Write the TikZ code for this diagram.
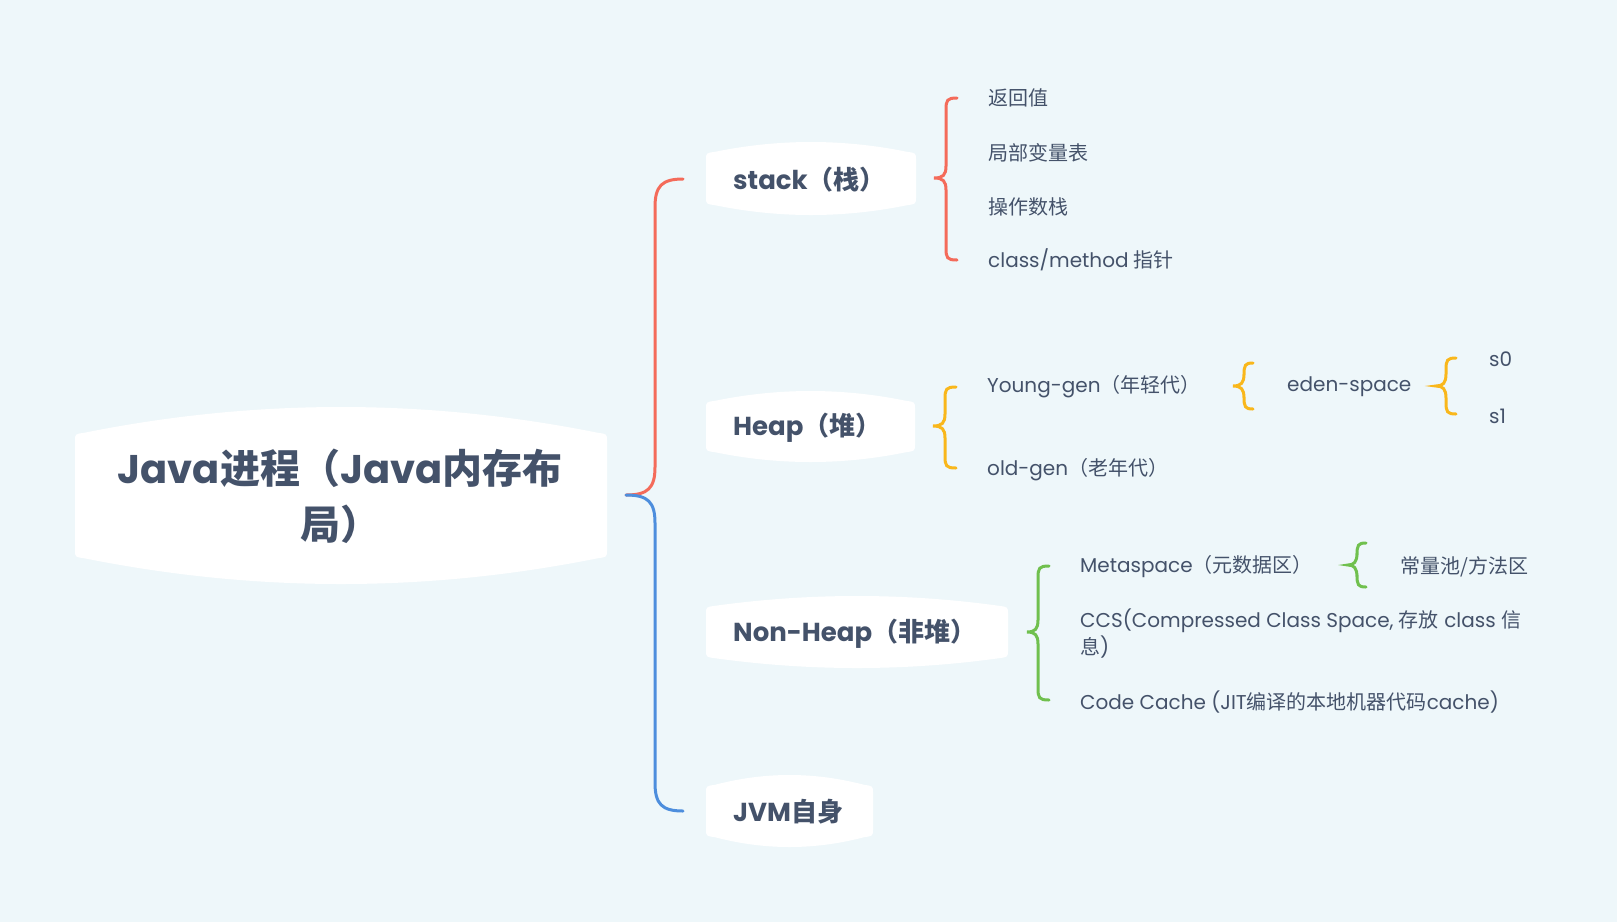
\documentclass[tikz,border=0pt]{standalone}
\usepackage{fontspec}
\setmainfont{Poppins}
\newfontfamily\cjk{Noto Sans CJK SC}
\definecolor{bg}{HTML}{EEF7FA}
\definecolor{ink}{HTML}{44526A}
\definecolor{cred}{HTML}{F46B5A}
\definecolor{cblue}{HTML}{4D8EDD}
\definecolor{cyel}{HTML}{F9B71B}
\definecolor{cgrn}{HTML}{70C04E}
\tikzset{
  rootlabel/.style={text=ink, font=\bfseries\fontsize{40}{56}\selectfont, align=center, inner sep=0pt},
  toplabel/.style={text=ink, font=\bfseries\fontsize{26}{32}\selectfont, anchor=west, inner sep=0pt},
  leaf/.style={text=ink, font=\fontsize{20}{27}\selectfont, anchor=west, inner sep=0pt, align=left},
  conn/.style={line width=3pt, line cap=round},
}
% bulged white box: x1, x2, top centre y, top corner y, bottom corner y, bottom centre y
\newcommand\bulgebox[6]{%
  \fill[white] ({#1},{#4+7}) .. controls ({#1},{#4}) .. ({#1+9},{#4-1.2})
    .. controls ({#1+9+(#2-#1-18)/3},{#3+(#3-#4+1.2)/3}) and ({#2-9-(#2-#1-18)/3},{#3+(#3-#4+1.2)/3}) .. ({#2-9},{#4-1.2})
    .. controls ({#2},{#4}) .. ({#2},{#4+7})
    -- ({#2},{#5-7}) .. controls ({#2},{#5}) .. ({#2-9},{#5+1.2})
    .. controls ({#2-9-(#2-#1-18)/3},{#6+(#6-#5-1.2)/3}) and ({#1+9+(#2-#1-18)/3},{#6+(#6-#5-1.2)/3}) .. ({#1+9},{#5+1.2})
    .. controls ({#1},{#5}) .. ({#1},{#5-7}) -- cycle;}
% brace: tip x, tip y, vertical x, end x, top y, bottom y, colour
\newcommand\bracket[7]{%
  \draw[conn,#7] ({#4},{#5}) .. controls ({#3+1},{#5}) and ({#3},{#5+2}) .. ({#3},{#5+12})
    -- ({#3},{#2-12}) .. controls ({#3},{#2-3}) and ({#3-3},{#2}) .. ({#1},{#2})
    .. controls ({#3-3},{#2}) and ({#3},{#2+3}) .. ({#3},{#2+12})
    -- ({#3},{#6-12}) .. controls ({#3},{#6-2}) and ({#3+1},{#6}) .. ({#4},{#6});}
\begin{document}
\begin{tikzpicture}[x=1pt,y=-1pt]
\fill[bg] (0,0) rectangle (1617,922);
\useasboundingbox (0,0) rectangle (1617,922);

% boxes
\bulgebox{75}{607}{407}{434}{557}{584}
\bulgebox{706}{916}{142}{153}{204}{215}
\bulgebox{706}{915}{391}{402}{451}{462}
\bulgebox{706}{1008}{596}{607}{657}{668}
\bulgebox{706}{873}{775}{786}{836}{847}

% labels
\node[rootlabel] (root) at (340,496) {Java{\cjk 进程（}Java{\cjk 内存布}\\{\cjk 局）}};
\node[toplabel] (stack) at (733,180) {stack{\cjk （栈）}};
\node[toplabel] (heap) at (733,428) {Heap{\cjk （堆）}};
\node[toplabel] (nonheap) at (733,634) {Non-Heap{\cjk （非堆）}};
\node[toplabel] (jvm) at (733,812) {JVM{\cjk 自身}};

\node[leaf] (ret) at (988,98) {{\cjk 返回值}};
\node[leaf] (local) at (988,153) {{\cjk 局部变量表}};
\node[leaf] (opstack) at (988,207) {{\cjk 操作数栈}};
\node[leaf] (ptr) at (988,260) {class/method {\cjk 指针}};

\node[leaf] (young) at (987,387) {Young-gen{\cjk （年轻代）}};
\node[leaf] (old) at (987,470) {old-gen{\cjk （老年代）}};
\node[leaf] (eden) at (1287,387) {eden-space};
\node[leaf] (s0) at (1489,359) {s0};
\node[leaf] (s1) at (1489,416) {s1};

\node[leaf] (meta) at (1080,567) {Metaspace{\cjk （元数据区）}};
\node[leaf] (pool) at (1400,567) {{\cjk 常量池/方法区}};
\node[leaf] (ccs) at (1080,634) {CCS(Compressed Class Space, {\cjk 存放} class {\cjk 信}\\{\cjk 息})};
\node[leaf] (code) at (1080,702) {Code Cache (JIT{\cjk 编译的本地机器代码}cache)};

% root brace
\coordinate (rtip) at (626,495);
\coordinate (rtop) at (683,179);
\coordinate (rbot) at (683,811);
\draw[conn,cred] (rtip) .. controls (648,495) and (655,488) .. (655,467) -- (655,207) .. controls (655,186) and (662,179) .. (rtop);
\draw[conn,cblue] (rtip) .. controls (648,495) and (655,502) .. (655,523) -- (655,783) .. controls (655,804) and (662,811) .. (rbot);

% sub braces
\bracket{934}{178}{946}{957}{98}{260}{cred}
\bracket{933}{426}{945}{956}{387}{468}{cyel}
\bracket{1233}{386}{1244}{1253}{363}{409}{cyel}
\bracket{1436}{386}{1446}{1456}{358}{414}{cyel}
\bracket{1027}{632}{1038}{1049}{566}{700}{cgrn}
\bracket{1348}{565}{1357}{1366}{543}{587}{cgrn}
\end{tikzpicture}
\end{document}
